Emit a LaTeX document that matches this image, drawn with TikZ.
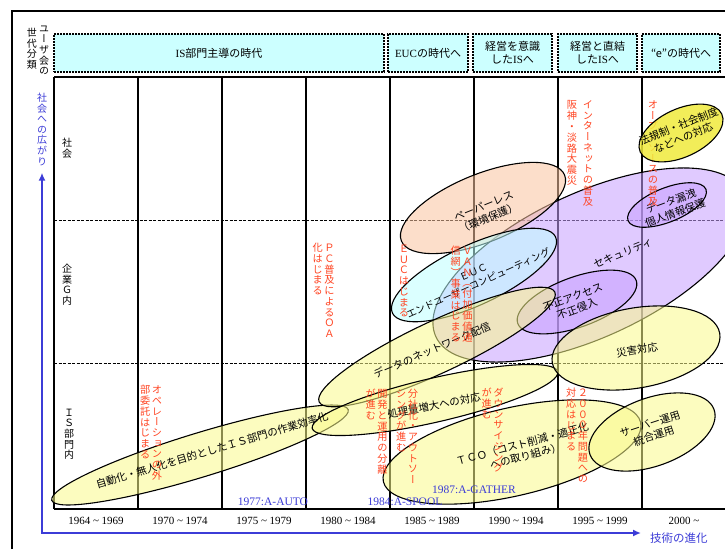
\documentclass[tikz,border=0pt]{standalone}
\usepackage{fontspec}
\setmainfont{Liberation Serif}
\newfontfamily\ja{Noto Sans CJK JP}
\newfontfamily\jav[RawFeature=+vert]{Noto Sans CJK JP}
\usetikzlibrary{arrows.meta,shapes.geometric}
\definecolor{redtx}{RGB}{255,68,34}
\definecolor{bluetx}{RGB}{60,60,215}
\definecolor{hdrfill}{RGB}{204,255,255}
\definecolor{yel}{RGB}{250,250,140}
\definecolor{lav}{RGB}{200,160,255}
\definecolor{peach}{RGB}{250,195,160}
\definecolor{cyanf}{RGB}{190,255,255}
\definecolor{yel2}{RGB}{240,235,60}
\newcommand\vstrut{\vrule height 0.82em depth 0.23em width 0pt}
\ExplSyntaxOn
\NewDocumentCommand\vcol{m}{
  \vtop{\offinterlineskip \jav
    \tl_map_inline:nn {#1}{ \hbox_to_wd:nn {1.15em}{\hss\vstrut ##1\hss} }
  }
}
\ExplSyntaxOff
\newcommand\vtwo[2]{\vcol{#2}\vcol{#1}}
\begin{document}
\begin{tikzpicture}[x=1pt,y=-1pt,
  hdr/.style={draw, fill=hdrfill, dash pattern=on 2pt off 1pt, line width=1.1pt, inner sep=0pt, align=center, font=\fontsize{11}{13}\selectfont},
  ell/.style={ellipse, draw, line width=1.1pt, inner sep=0pt, fill opacity=0.55},
  etxt/.style={font=\ja\fontsize{10.5}{12.5}\selectfont, align=center, inner sep=0pt},
  rtxt/.style={text=redtx, font=\fontsize{10.2}{12}\selectfont, inner sep=0pt, anchor=north},
  vlbl/.style={font=\fontsize{10}{12}\selectfont, inner sep=0pt, anchor=north},
  yr/.style={font=\fontsize{11}{13}\selectfont, inner sep=0pt},
  bl/.style={text=bluetx, font=\fontsize{11.5}{13}\selectfont, inner sep=0pt},
  gridv/.style={line width=1.3pt},
  gridh/.style={line width=1pt, dash pattern=on 3pt off 1.5pt}]
\useasboundingbox (0,0) rectangle (725,549);
\fill[white] (0,0) rectangle (725,549);
% outer frame
\draw[line width=2.2pt] (12,549) -- (12,11) -- (725,11);
% header
\node[hdr, minimum width=330pt, minimum height=38pt] (h1) at (219,53) {IS{\ja 部門主導の時代}};
\node[hdr, minimum width=80pt, minimum height=38pt] (h2) at (428,53) {EUC{\ja の時代へ}};
\node[hdr, minimum width=79pt, minimum height=38pt] (h3) at (512.5,53) {{\ja 経営を意識}\\{\ja した}IS{\ja へ}};
\node[hdr, minimum width=79pt, minimum height=38pt] (h4) at (597.5,53) {{\ja 経営と直結}\\{\ja した}IS{\ja へ}};
\node[hdr, minimum width=78pt, minimum height=38pt] (h5) at (681,53) {{\ja “e”の時代へ}};
\node[vlbl] (gen1) at (44,24) {\vcol{ユーザ会の}};
\node[vlbl] (gen2) at (32,28) {\vcol{世代分類}};
% grid
\foreach \x in {54,138,222,306,390,474,558,642} \draw[gridv] (\x,77) -- (\x,509);
\draw[gridv] (54,77) -- (725,77);
\draw[gridv] (54,509) -- (725,509);
\draw[gridh] (54,220) -- (725,220);
\draw[gridh] (54,363) -- (725,363);
% row labels
\node[vlbl] (r1) at (67,138) {\vcol{社会}};
\node[vlbl] (r2) at (67,264) {\vcol{企業Ｇ内}};
\node[vlbl] (r3) at (69,408) {\vcol{ＩＳ部門内}};
% years
\foreach \x/\t in {96/1964 \textasciitilde{} 1969,180/1970 \textasciitilde{} 1974,264/1975 \textasciitilde{} 1979,348/1980 \textasciitilde{} 1984,432/1985 \textasciitilde{} 1989,516/1990 \textasciitilde{} 1994,600/1995 \textasciitilde{} 1999,684/2000 \textasciitilde}
  \node[yr] at (\x,521) {\t};
% ellipses
\node[ell, fill=lav, minimum width=340pt, minimum height=144pt, rotate=25] (e7) at (590,265) {};
\node[ell, fill=lav, minimum width=126pt, minimum height=50pt, rotate=20] (e8) at (577,302) {};
\node[ell, fill=lav, minimum width=84pt, minimum height=34pt, rotate=22] (e9) at (667,205) {};
\node[ell, fill=peach, minimum width=176pt, minimum height=68pt, rotate=22] (e11) at (483,208) {};
\node[ell, fill=cyanf, minimum width=180pt, minimum height=60pt, rotate=25] (e12) at (474,275) {};
\node[ell, fill=yel, minimum width=310pt, minimum height=44pt, rotate=17] (e1) at (200,455) {};
\node[ell, fill=yel, minimum width=260pt, minimum height=52pt, rotate=25] (e2) at (437,347) {};
\node[ell, fill=yel, minimum width=252pt, minimum height=44pt, rotate=13] (e3) at (435,400) {};
\node[ell, fill=yel, minimum width=264pt, minimum height=88pt, rotate=13] (e4) at (512,452) {};
\node[ell, fill=yel, minimum width=132pt, minimum height=68pt, rotate=20] (e5) at (652,432) {};
\node[ell, fill=yel, minimum width=170pt, minimum height=80pt, rotate=10] (e6) at (636,348) {};
% ellipse texts
\node[etxt, rotate=16.5] (t1) at (212,450) {自動化・無人化を目的としたＩＳ部門の作業効率化};
\node[etxt, rotate=23] (t2) at (432,350) {データのネットワーク配信};
\node[etxt, rotate=11] (t3) at (434,406) {処理量増大への対応};
\node[etxt, rotate=15] (t4) at (524,450) {ＴＣＯ（コスト削減・適正化\\への取り組み）};
\node[etxt, rotate=18] (t5) at (652,430) {サーバー運用\\統合運用};
\node[etxt, rotate=10] (t6) at (637,350) {災害対応};
\node[etxt, rotate=22] (t7) at (623,253) {セキュリティ};
\node[etxt, rotate=20] (t8) at (575,303) {不正アクセス\\不正侵入};
\node[etxt, rotate=20] (t9) at (673,207) {データ漏洩\\個人情報保護};
\node[etxt, rotate=22] (t11) at (486,212) {ペーパーレス\\（環境保護）};
\node[etxt, rotate=24, font=\ja\fontsize{9.8}{12}\selectfont] (t12) at (476,278) {ＥＵＣ\\エンドユーザーコンピューティング};
% red texts
\node[rtxt] (ra) at (151,385) {\vtwo{オペレーションの外}{部委託はじまる}};
\node[rtxt] (rb) at (323.5,243) {\vtwo{ＰＣ普及によるＯＡ}{化はじまる}};
\node[rtxt] (rc) at (404,244) {\vcol{ＥＵＣはじまる}};
\node[rtxt] (rd) at (461.5,246) {\vtwo{ＶＡＮ（付加価値通}{信網）事業はじまる}};
\node[rtxt] (re) at (376.5,389) {\vtwo{開発と運用の分離}{が進む}};
\node[rtxt] (rf) at (407,389) {\vtwo{分社化・アウトソー}{シングが進む}};
\node[rtxt] (rg) at (492.5,388) {\vtwo{ダウンサイジング}{が進む}};
\node[rtxt] (rh) at (572,100) {\vcol{阪神・淡路大震災}};
\node[rtxt] (ri) at (588,100) {\vcol{インターネットの普及}};
\node[rtxt] (rj) at (653,100) {\vcol{オープンソースの普及}};
\node[rtxt] (rk) at (577,388) {\vtwo{２０００年問題への}{対応はじまる}};
% top yellow ellipse over the red text
\node[ell, fill=yel2, fill opacity=0.85, minimum width=90pt, minimum height=48pt, rotate=25] (e10) at (681,133) {};
\node[etxt, rotate=22] (t10) at (681,132) {法規制・社会制度\\などへの対応};
% blue labels and axes
\node[bl] (b1) at (273,502) {1977:A-AUTO};
\node[bl] (b2) at (405,502) {1984:A-SPOOL};
\node[bl] (b3) at (474,490) {1987:A-GATHER};
\node[vlbl, text=bluetx] (ylab) at (42,93) {\vcol{社会への広がり}};
\coordinate (ytip) at ([yshift=-5pt]ylab.south);
\coordinate (xtip) at (641,533);
\draw[bluetx, line width=2pt, {Latex[length=8pt,width=7pt]}-{Latex[length=8pt,width=7pt]}] (ytip) |- (xtip);
\node[bl, font=\ja\fontsize{11.5}{13}\selectfont, anchor=west] (xlab) at (650,538) {技術の進化};
\end{tikzpicture}
\end{document}
